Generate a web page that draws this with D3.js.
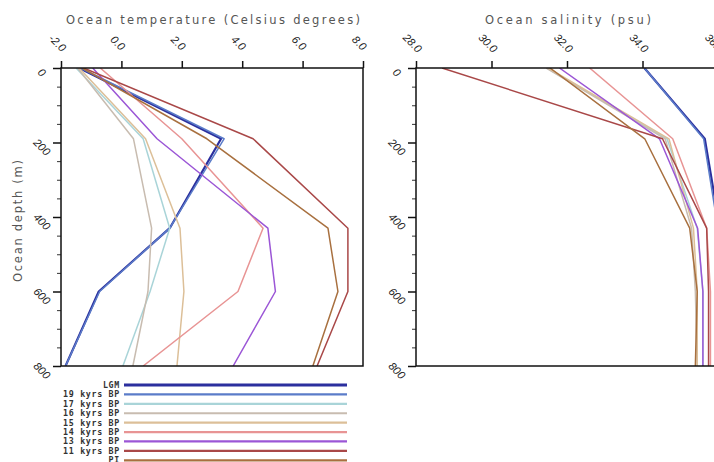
<!DOCTYPE html>
<html>
<head>
<meta charset="utf-8">
<script src="https://cdn.jsdelivr.net/npm/d3@7"></script>
<style>
  body { margin: 0; background: #fff; }
  svg { display: block; }
</style>
</head>
<body>
<div id="chart"></div>
<script>
// depth levels (m)
const depths = [0, 190, 430, 600, 800];

const seriesNames = ['LGM', '19 kyrs BP', '17 kyrs BP', '16 kyrs BP', '15 kyrs BP',
                     '14 kyrs BP', '13 kyrs BP', '11 kyrs BP', 'PI'];
const seriesColors = ['#2b2f9e', '#5b7cc9', '#a9d4d8', '#c8bcb0', '#dcbf98',
                      '#e89494', '#9b56d6', '#a94848', '#a8703f'];

// temperature (Celsius) per series, at each depth
const temperature = [
  [-1.4, 3.3, 1.6, -0.75, -1.85],
  [-1.35, 3.4, 1.6, -0.72, -1.85],
  [-1.5, 0.72, 1.6, 0.95, 0.05],
  [-1.45, 0.4, 1.0, 0.88, 0.38],
  [-1.4, 0.8, 1.94, 2.07, 1.84],
  [-0.7, 2.0, 4.69, 3.86, 0.72],
  [-0.95, 1.18, 4.85, 5.1, 3.7],
  [-1.25, 4.36, 7.5, 7.5, 6.48],
  [-1.3, 2.83, 6.84, 7.17, 6.34]
];

// salinity (psu) per series, at each depth
const salinity = [
  [34.05, 35.65, 36.05, 36.1, 36.1],
  [34.05, 35.62, 36.0, 36.05, 36.05],
  [31.47, 34.65, 35.45, 35.6, 35.6],
  [31.45, 34.6, 35.3, 35.4, 35.45],
  [31.5, 34.7, 35.35, 35.45, 35.45],
  [32.6, 34.8, 35.7, 35.8, 35.8],
  [31.8, 34.45, 35.46, 35.6, 35.6],
  [28.69, 34.53, 35.7, 35.75, 35.75],
  [31.55, 34.06, 35.25, 35.45, 35.4]
];

const tempTicks = [-2, 0, 2, 4, 6, 8];
const salTicks = [28, 30, 32, 34, 36];
const depthTicks = [0, 200, 400, 600, 800];
const depthMinor = [50, 100, 150, 250, 300, 350, 450, 500, 550, 650, 700, 750];

const width = 714, height = 462;
const plotTop = 68, plotBottom = 366;

const svg = d3.select('#chart').append('svg')
    .attr('width', width)
    .attr('height', height)
    .style('font-family', 'DejaVu Sans, sans-serif');

const y = d3.scaleLinear().domain([0, 800]).range([plotTop, plotBottom]);

function drawPanel(x0, x1, domain, ticks, values, title, titleX, titleLen) {
  const x = d3.scaleLinear().domain(domain).range([x0, x1]);
  const g = svg.append('g');

  g.append('defs').append('clipPath')
      .attr('id', 'clip' + x0)
    .append('rect')
      .attr('x', x0).attr('y', plotTop)
      .attr('width', x1 - x0).attr('height', plotBottom - plotTop);

  const line = d3.line()
      .x(d => x(d[0]))
      .y(d => y(d[1]));

  g.append('g')
      .attr('clip-path', 'url(#clip' + x0 + ')')
    .selectAll('path')
    .data(values)
    .join('path')
      .attr('d', v => line(v.map((t, i) => [t, depths[i]])))
      .attr('fill', 'none')
      .attr('stroke', (v, i) => seriesColors[i])
      .attr('stroke-width', (v, i) => i === 0 ? 2.2 : 1.5)
      .attr('stroke-linejoin', 'round');

  // top axis
  const xAxis = g.append('g')
      .attr('transform', 'translate(0,' + plotTop + ')')
      .call(d3.axisTop(x).tickValues(ticks).tickSize(7).tickSizeOuter(0).tickFormat(d => d.toFixed(1)));
  xAxis.select('.domain').remove();
  xAxis.selectAll('line').attr('stroke', '#111').attr('stroke-width', 1.5);
  xAxis.selectAll('text')
      .attr('transform', 'translate(-4,-25) rotate(45)')
      .attr('x', 0).attr('y', 0)
      .attr('dy', '0.35em')
      .style('text-anchor', 'middle')
      .attr('font-size', 11)
      .attr('font-style', 'italic')
      .attr('fill', '#222');

  // left axis
  const yAxis = g.append('g')
      .attr('transform', 'translate(' + x0 + ',0)')
      .call(d3.axisLeft(y).tickValues(depthTicks).tickSize(8).tickSizeOuter(0).tickFormat(d => d));
  yAxis.select('.domain').remove();
  yAxis.selectAll('line').attr('stroke', '#111').attr('stroke-width', 1.5);
  yAxis.selectAll('text')
      .attr('transform', 'translate(-19,4) rotate(45)')
      .attr('x', 0).attr('y', 0)
      .attr('dy', '0.35em')
      .style('text-anchor', 'middle')
      .attr('font-size', 11)
      .attr('font-style', 'italic')
      .attr('fill', '#222');

  const minor = g.append('g')
      .attr('transform', 'translate(' + x0 + ',0)')
      .call(d3.axisLeft(y).tickValues(depthMinor).tickSize(4).tickFormat(''));
  minor.select('.domain').remove();
  minor.selectAll('line').attr('stroke', '#333').attr('stroke-width', 1);

  // frame
  g.append('rect')
      .attr('x', x0).attr('y', plotTop)
      .attr('width', x1 - x0).attr('height', plotBottom - plotTop)
      .attr('fill', 'none')
      .attr('stroke', '#111')
      .attr('stroke-width', 1.5);

  g.append('text')
      .attr('x', titleX).attr('y', 24)
      .attr('text-anchor', 'middle')
      .attr('textLength', titleLen)
      .attr('lengthAdjust', 'spacing')
      .attr('font-size', 11.5)
      .attr('fill', '#555')
      .text(title);
}

drawPanel(61, 363, [-2, 8], tempTicks, temperature,
          'Ocean temperature (Celsius degrees)', 213, 294);
drawPanel(416, 718, [28, 36], salTicks, salinity,
          'Ocean salinity (psu)', 568, 166);

svg.append('text')
    .attr('transform', 'translate(22,221) rotate(-90)')
    .attr('text-anchor', 'middle')
    .attr('textLength', 122)
    .attr('lengthAdjust', 'spacing')
    .attr('font-size', 11.5)
    .attr('fill', '#555')
    .text('Ocean depth (m)');

// legend
const legendY = d3.scaleBand().domain(seriesNames).range([380.3, 465]);
const legend = svg.append('g')
  .selectAll('g')
  .data(seriesNames)
  .join('g')
    .attr('transform', d => 'translate(0,' + (legendY(d) + legendY.bandwidth() / 2) + ')');

legend.append('line')
    .attr('x1', 124).attr('x2', 347)
    .attr('stroke', (d, i) => seriesColors[i])
    .attr('stroke-width', (d, i) => i === 0 ? 3 : 2.2);

legend.append('text')
    .attr('x', 120).attr('y', 3)
    .attr('text-anchor', 'end')
    .attr('font-family', 'DejaVu Sans Mono, monospace')
    .attr('font-weight', 'bold')
    .attr('font-size', 8.3)
    .attr('letter-spacing', 0.7)
    .attr('fill', '#333')
    .text(d => d);
</script>
</body>
</html>
